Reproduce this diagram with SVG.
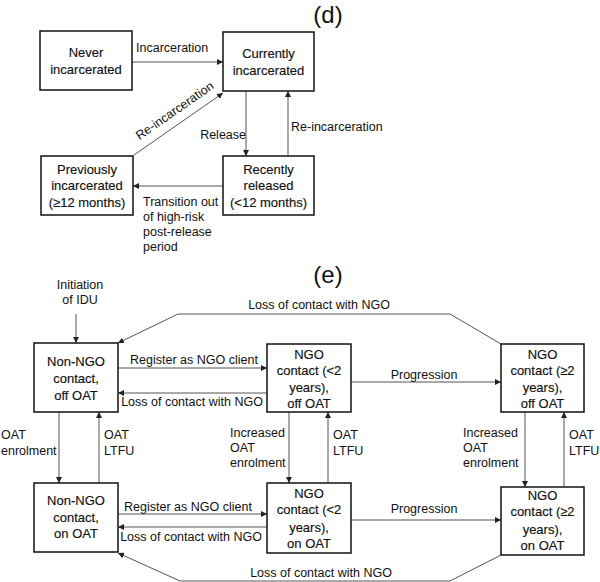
<svg xmlns="http://www.w3.org/2000/svg" width="600" height="582" viewBox="0 0 600 582">
<defs>
<marker id="ah" markerUnits="userSpaceOnUse" markerWidth="7" markerHeight="7" refX="6" refY="3" orient="auto">
<path d="M0,0 L6,3 L0,6 Z" fill="#222"/>
</marker>
<style>
.box{fill:#fff;stroke:#111;stroke-width:1.5}
.nt{font-family:"Liberation Sans",Arial,sans-serif;font-size:13px;fill:#111;stroke:#111;stroke-width:0.15;text-anchor:middle}
.el{font-family:"Liberation Sans",Arial,sans-serif;font-size:12.5px;fill:#111}
.c{fill:none;stroke:#555;stroke-width:1;marker-end:url(#ah)}
.ttl{font-family:"Liberation Sans",Arial,sans-serif;font-size:24px;fill:#111;text-anchor:middle}
</style>
</defs>
<rect width="600" height="582" fill="#fff"/>
<text class="ttl" x="328" y="23">(d)</text>
<text class="ttl" x="328" y="283">(e)</text>

<g id="connectors">
<path class="c" d="M132,62 H223"/>
<path class="c" d="M246,91 V156"/>
<path class="c" d="M288,156 V91"/>
<path class="c" d="M134,155 L223,93"/>
<path class="c" d="M223,186 H133"/>
<path class="c" d="M76,314 V343"/>
<path class="c" d="M118,368 H267"/>
<path class="c" d="M267,393 H118"/>
<path class="c" d="M351,382 H501"/>
<path class="c" d="M501,344 L450,314 H178 L118,343"/>
<path class="c" d="M59,412 V483"/>
<path class="c" d="M99,483 V412"/>
<path class="c" d="M289,412 V483"/>
<path class="c" d="M328,483 V412"/>
<path class="c" d="M525,412 V487"/>
<path class="c" d="M564,487 V412"/>
<path class="c" d="M118,514 H267"/>
<path class="c" d="M267,527 H118"/>
<path class="c" d="M351,520 H501"/>
<path class="c" d="M501,555 L450,581 H180 L118,553"/>
<text class="el" x="136" y="52">Incarceration</text>
<text class="el" x="246" y="139" text-anchor="end">Release</text>
<text class="el" x="291" y="131">Re-incarceration</text>
<text class="el" x="177" y="114" text-anchor="middle" transform="rotate(-34.9 177 114)">Re-incarceration</text>
<text class="el" x="143" y="206">Transition out</text>
<text class="el" x="143" y="221">of high-risk</text>
<text class="el" x="143" y="236">post-release</text>
<text class="el" x="143" y="251">period</text>
<text class="el" x="80" y="289" text-anchor="middle">Initiation</text>
<text class="el" x="80" y="304" text-anchor="middle">of IDU</text>
<text class="el" x="194" y="364" text-anchor="middle">Register as NGO client</text>
<text class="el" x="192" y="406" text-anchor="middle">Loss of contact with NGO</text>
<text class="el" x="424" y="379" text-anchor="middle">Progression</text>
<text class="el" x="319" y="309" text-anchor="middle">Loss of contact with NGO</text>
<text class="el" x="1" y="439">OAT</text>
<text class="el" x="1" y="455">enrolment</text>
<text class="el" x="104" y="439">OAT</text>
<text class="el" x="104" y="455">LTFU</text>
<text class="el" x="230" y="437">Increased</text>
<text class="el" x="230" y="452">OAT</text>
<text class="el" x="230" y="467">enrolment</text>
<text class="el" x="333" y="439">OAT</text>
<text class="el" x="333" y="455">LTFU</text>
<text class="el" x="463" y="437">Increased</text>
<text class="el" x="463" y="452">OAT</text>
<text class="el" x="463" y="467">enrolment</text>
<text class="el" x="569" y="439">OAT</text>
<text class="el" x="569" y="455">LTFU</text>
<text class="el" x="188" y="511" text-anchor="middle">Register as NGO client</text>
<text class="el" x="191" y="541" text-anchor="middle">Loss of contact with NGO</text>
<text class="el" x="424" y="513" text-anchor="middle">Progression</text>
<text class="el" x="321" y="577" text-anchor="middle">Loss of contact with NGO</text>
</g>

<g id="never">
<rect class="box" x="40" y="31" width="92" height="59"/>
<text class="nt" x="86" y="57">Never</text>
<text class="nt" x="86" y="74">incarcerated</text>
</g>
<g id="current">
<rect class="box" x="223" y="32" width="91" height="59"/>
<text class="nt" x="268.5" y="58">Currently</text>
<text class="nt" x="268.5" y="75">incarcerated</text>
</g>
<g id="previous">
<rect class="box" x="41" y="156" width="92" height="59"/>
<text class="nt" x="87" y="174">Previously</text>
<text class="nt" x="87" y="190">incarcerated</text>
<text class="nt" x="87" y="207">(≥12 months)</text>
</g>
<g id="recent">
<rect class="box" x="223" y="156" width="91" height="59"/>
<text class="nt" x="268.5" y="174">Recently</text>
<text class="nt" x="268.5" y="190">released</text>
<text class="nt" x="268.5" y="207">(&lt;12 months)</text>
</g>

<g id="nonngo-off">
<rect class="box" x="34" y="343" width="84" height="69"/>
<text class="nt" x="76" y="366">Non-NGO</text>
<text class="nt" x="76" y="383">contact,</text>
<text class="nt" x="76" y="400">off OAT</text>
</g>
<g id="ngo-lt2-off">
<rect class="box" x="267" y="344" width="84" height="68"/>
<text class="nt" x="309" y="359">NGO</text>
<text class="nt" x="309" y="375">contact (&lt;2</text>
<text class="nt" x="309" y="392">years),</text>
<text class="nt" x="309" y="408">off OAT</text>
</g>
<g id="ngo-ge2-off">
<rect class="box" x="501" y="344" width="83" height="68"/>
<text class="nt" x="542.5" y="359">NGO</text>
<text class="nt" x="542.5" y="375">contact (≥2</text>
<text class="nt" x="542.5" y="392">years),</text>
<text class="nt" x="542.5" y="408">off OAT</text>
</g>
<g id="nonngo-on">
<rect class="box" x="34" y="483" width="84" height="69"/>
<text class="nt" x="76" y="505">Non-NGO</text>
<text class="nt" x="76" y="522">contact,</text>
<text class="nt" x="76" y="538">on OAT</text>
</g>
<g id="ngo-lt2-on">
<rect class="box" x="267" y="483" width="84" height="70"/>
<text class="nt" x="309" y="498">NGO</text>
<text class="nt" x="309" y="514">contact (&lt;2</text>
<text class="nt" x="309" y="532">years),</text>
<text class="nt" x="309" y="548">on OAT</text>
</g>
<g id="ngo-ge2-on">
<rect class="box" x="501" y="487" width="83" height="68"/>
<text class="nt" x="542.5" y="500">NGO</text>
<text class="nt" x="542.5" y="516">contact (≥2</text>
<text class="nt" x="542.5" y="534">years),</text>
<text class="nt" x="542.5" y="550">on OAT</text>
</g>
</svg>
